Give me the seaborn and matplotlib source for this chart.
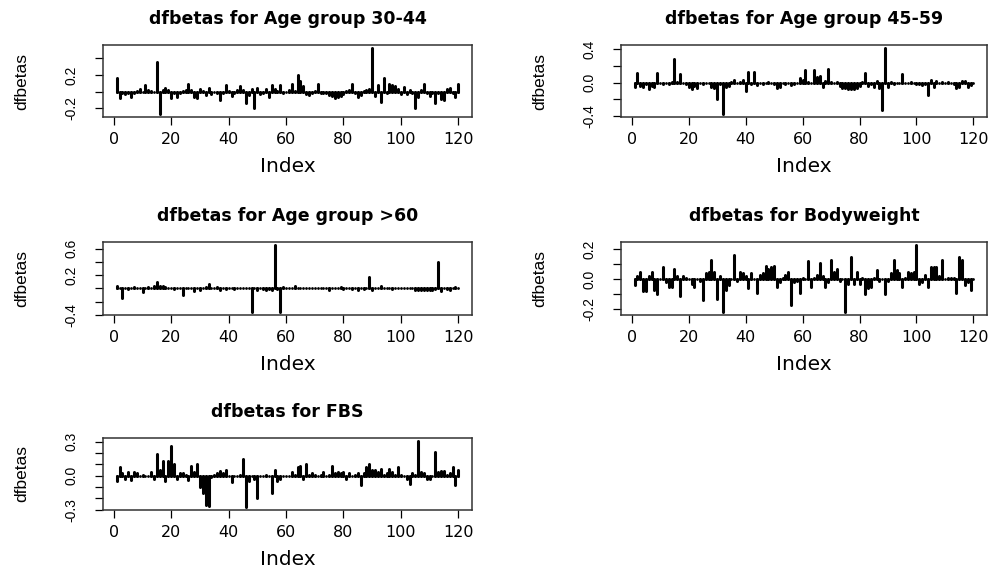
import numpy as np
import pandas as pd
import matplotlib
matplotlib.use("Agg")
import matplotlib.pyplot as plt
import seaborn as sns

# Observation index (1..120) shared by every panel
obs_index = np.arange(1, 121)

# dfbetas per coefficient, one value per observation
age_30_44 = [
    0.16, -0.07, -0.02, -0.03, -0.02, -0.06, -0.02, 0.01, 0.03, 0.00,
    0.08, 0.02, 0.01, 0.00, 0.36, -0.27, 0.02, 0.04, 0.02, -0.08,
    -0.01, -0.06, -0.02, 0.01, 0.02, 0.09, 0.02, -0.06, -0.07, 0.03,
    0.01, -0.04, 0.05, -0.03, 0.00, -0.01, -0.10, -0.02, 0.08, 0.01,
    -0.05, -0.02, 0.02, 0.07, 0.02, -0.13, -0.04, 0.03, -0.20, 0.05,
    -0.03, -0.01, 0.03, -0.06, 0.08, 0.03, 0.01, 0.08, -0.01, 0.00,
    0.02, 0.09, 0.01, 0.20, 0.13, 0.07, -0.03, -0.04, -0.01, 0.01,
    0.09, -0.01, -0.02, -0.02, -0.04, -0.05, -0.07, -0.06, -0.05, -0.03,
    0.01, 0.02, 0.09, -0.02, -0.06, -0.04, 0.01, 0.02, 0.03, 0.53,
    -0.05, 0.08, -0.12, 0.17, -0.02, 0.09, 0.08, 0.07, 0.03, -0.03,
    0.06, -0.03, 0.02, -0.01, -0.20, -0.06, 0.02, 0.09, -0.02, -0.05,
    -0.01, -0.14, -0.02, -0.09, -0.10, 0.03, 0.04, -0.01, -0.06, 0.09,
]
age_45_59 = [
    -0.05, 0.12, -0.04, -0.05, -0.02, -0.07, -0.04, -0.05, 0.12, 0.00,
    -0.01, 0.00, -0.01, 0.01, 0.28, 0.01, 0.11, 0.00, -0.01, -0.05,
    -0.07, -0.04, -0.06, 0.00, -0.01, 0.00, 0.00, -0.05, -0.06, -0.20,
    -0.02, -0.38, -0.05, -0.04, 0.01, 0.03, 0.00, 0.01, 0.03, -0.10,
    0.13, -0.02, 0.13, -0.03, 0.00, -0.01, 0.00, 0.01, 0.00, -0.02,
    -0.06, -0.05, 0.00, -0.01, 0.00, -0.03, -0.02, 0.00, 0.06, 0.03,
    0.15, 0.01, 0.00, 0.15, 0.07, 0.08, -0.05, 0.02, 0.17, 0.01,
    0.00, 0.01, -0.04, -0.06, -0.06, -0.07, -0.07, -0.07, -0.06, -0.04,
    0.01, 0.12, -0.04, -0.02, -0.05, 0.02, -0.06, -0.33, 0.42, -0.05,
    0.01, -0.01, 0.00, 0.00, 0.10, 0.00, 0.00, 0.01, 0.00, -0.01,
    -0.02, -0.03, -0.02, -0.15, 0.03, -0.05, 0.02, 0.00, 0.01, 0.00,
    0.01, 0.00, -0.02, -0.06, -0.05, 0.02, 0.02, -0.05, -0.03, 0.00,
]
age_60_plus = [
    0.03, 0.00, -0.15, 0.00, -0.01, 0.01, 0.02, 0.01, 0.00, -0.05,
    0.00, 0.02, 0.01, 0.03, 0.10, 0.04, 0.03, 0.02, 0.00, 0.01,
    -0.01, 0.00, 0.01, -0.10, 0.00, 0.01, 0.00, -0.04, 0.00, -0.03,
    0.01, 0.02, 0.06, 0.01, 0.00, 0.02, -0.03, 0.00, -0.01, 0.00,
    0.00, -0.01, 0.00, 0.00, 0.00, 0.00, 0.00, -0.36, 0.00, -0.02,
    0.00, -0.01, -0.02, -0.01, -0.02, 0.66, -0.01, -0.36, 0.02, 0.00,
    0.01, 0.00, 0.03, 0.00, 0.01, 0.00, 0.00, 0.01, 0.00, 0.00,
    0.00, 0.00, 0.00, 0.00, -0.03, 0.00, 0.01, 0.00, 0.02, -0.01,
    0.00, 0.01, -0.01, 0.00, -0.02, 0.00, -0.01, 0.00, 0.18, -0.03,
    0.00, 0.00, 0.03, 0.01, 0.00, 0.00, -0.01, 0.00, 0.00, 0.00,
    0.00, 0.00, 0.01, 0.00, -0.02, -0.02, -0.02, -0.02, -0.02, -0.02,
    -0.02, -0.01, 0.40, -0.04, 0.00, -0.01, -0.02, 0.00, 0.02, 0.00,
]
bodyweight = [
    -0.04, 0.02, 0.05, -0.08, -0.08, 0.02, 0.05, -0.07, -0.10, 0.00,
    0.08, -0.02, -0.05, -0.05, 0.07, 0.02, -0.11, 0.02, 0.01, 0.00,
    -0.03, -0.05, 0.00, -0.01, -0.14, 0.04, 0.05, 0.13, 0.05, -0.13,
    0.02, -0.22, -0.07, -0.04, 0.00, 0.16, -0.01, 0.05, 0.04, 0.02,
    -0.06, 0.04, 0.00, -0.09, 0.03, 0.04, 0.09, 0.07, 0.08, 0.09,
    -0.05, -0.02, 0.01, 0.03, 0.05, -0.17, -0.02, -0.01, -0.09, 0.01,
    0.00, 0.12, -0.05, 0.01, 0.03, 0.11, 0.02, -0.05, -0.02, 0.13,
    0.05, 0.07, -0.01, 0.00, -0.22, -0.03, 0.15, -0.03, 0.05, -0.03,
    0.01, -0.10, -0.06, -0.05, 0.01, 0.06, -0.01, 0.00, -0.10, -0.01,
    0.04, 0.13, 0.06, 0.04, -0.05, 0.01, 0.05, 0.04, 0.05, 0.23,
    -0.03, -0.02, 0.03, -0.05, 0.08, 0.08, 0.08, 0.02, 0.13, 0.00,
    0.01, 0.01, 0.01, -0.09, 0.15, 0.13, -0.04, -0.02, -0.07, 0.00,
]
fbs = [
    -0.05, 0.08, 0.02, -0.03, 0.03, -0.04, 0.03, 0.02, 0.00, 0.01,
    0.00, 0.00, 0.03, -0.03, 0.19, 0.05, 0.13, -0.05, 0.13, 0.26,
    0.10, -0.03, 0.02, 0.02, 0.01, -0.04, 0.09, 0.03, 0.10, -0.10,
    -0.15, -0.26, -0.27, -0.01, 0.01, 0.02, 0.04, 0.02, 0.05, 0.00,
    -0.06, 0.00, 0.00, 0.01, 0.15, -0.28, -0.05, 0.00, -0.03, -0.20,
    0.00, 0.00, 0.01, 0.00, -0.15, 0.05, -0.05, -0.03, 0.00, 0.00,
    0.00, 0.03, 0.01, 0.08, 0.09, -0.03, 0.10, 0.01, 0.02, 0.01,
    0.00, 0.01, 0.03, 0.00, 0.01, 0.09, 0.02, 0.03, 0.02, 0.03,
    -0.03, 0.02, 0.00, 0.01, 0.02, -0.08, 0.02, 0.08, 0.10, 0.05,
    0.05, 0.03, 0.06, 0.01, 0.02, 0.06, 0.03, 0.01, 0.08, 0.01,
    0.00, -0.03, -0.07, 0.02, 0.01, 0.31, 0.03, 0.02, -0.03, -0.03,
    0.00, 0.21, 0.03, 0.04, 0.04, 0.01, 0.02, 0.08, -0.08, 0.05,
]

titles = [
    "dfbetas for Age group 30-44",
    "dfbetas for Age group 45-59",
    "dfbetas for Age group >60",
    "dfbetas for Bodyweight",
    "dfbetas for FBS",
]
x_ticks = [0, 20, 40, 60, 80, 100, 120]
y_ticks = [
    [-0.2, 0.0, 0.2, 0.4],
    [-0.4, -0.2, 0.0, 0.2, 0.4],
    [-0.4, -0.2, 0.0, 0.2, 0.4, 0.6],
    [-0.2, -0.1, 0.0, 0.1, 0.2],
    [-0.3, -0.2, -0.1, 0.0, 0.1, 0.2, 0.3],
]
y_tick_labels = [
    ["-0.2", "", "0.2", ""],
    ["-0.4", "", "0.0", "", "0.4"],
    ["-0.4", "", "", "0.2", "", "0.6"],
    ["-0.2", "", "0.0", "", "0.2"],
    ["-0.3", "", "", "0.0", "", "", "0.3"],
]
series = [age_30_44, age_45_59, age_60_plus, bodyweight, fbs]

sns.set_style("ticks")
plt.rcParams["font.family"] = ["DejaVu Sans"]
plt.rcParams["text.color"] = "black"
plt.rcParams["axes.labelcolor"] = "black"
plt.rcParams["xtick.color"] = "black"
plt.rcParams["ytick.color"] = "black"

VERTICAL_FONT = ["Liberation Sans", "DejaVu Sans"]

W, H = 991, 568
fig = plt.figure(figsize=(W / 100, H / 100), dpi=100)

# panel boxes in pixels: left, top, right, bottom
boxes = [
    (103, 45, 472, 117),
    (621, 45, 987, 117),
    (103, 242, 472, 315),
    (621, 242, 987, 315),
    (103, 438, 472, 510),
]


def pad_range(lo, hi):
    span = hi - lo
    return lo - 0.04 * span, hi + 0.04 * span


for title, vals, yt, ytl, (l, t, r, b) in zip(titles, series, y_ticks, y_tick_labels, boxes):
    ax = fig.add_axes([l / W, 1 - b / H, (r - l) / W, (b - t) / H])
    df = pd.DataFrame({"Index": obs_index, "dfbetas": vals})
    # histogram-like vertical lines from zero, with round ends
    ax.vlines(df["Index"], 0, df["dfbetas"], colors="black",
              linewidth=2.2, capstyle="round")
    # round end at the zero base of each line (visible even for zero values)
    ax.plot(df["Index"], np.zeros(len(df)), linestyle="none", marker="o",
            markersize=2.0, markeredgewidth=0, color="black")
    ax.set_xlim(*pad_range(df["Index"].min(), df["Index"].max()))
    ax.set_ylim(*pad_range(df["dfbetas"].min(), df["dfbetas"].max()))

    ax.set_xticks(x_ticks)
    ax.set_xticklabels([str(v) for v in x_ticks])
    ax.set_yticks(yt)
    ax.set_yticklabels(ytl, rotation=90, va="center", family=VERTICAL_FONT)

    for sp in ax.spines.values():
        sp.set_visible(True)
        sp.set_color("#333333")
        sp.set_linewidth(1.1)
    ax.tick_params(axis="both", direction="out", length=5.5, width=0.9,
                   color="black", labelcolor="black")
    ax.tick_params(axis="x", pad=5, labelsize=11.5)
    ax.tick_params(axis="y", pad=12, labelsize=10)

    ax.set_title(title, fontsize=12.5, fontweight="bold", pad=15, color="black")
    h_px = b - t
    w_px = r - l
    ax.set_xlabel("Index", fontsize=14.5, color="black")
    ax.xaxis.set_label_coords(0.5, -40 / h_px)
    ax.set_ylabel("dfbetas", fontsize=12.5, color="black", family=VERTICAL_FONT)
    ax.yaxis.set_label_coords(-74 / w_px, 0.5)
    ax.grid(False)

fig.savefig("out.png", dpi=100, facecolor="white")
